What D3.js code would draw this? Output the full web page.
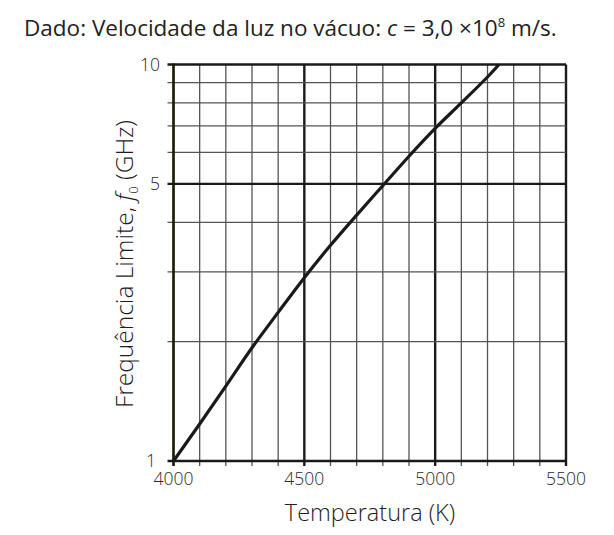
<!DOCTYPE html>
<html>
<head>
<meta charset="utf-8">
<script src="https://cdn.jsdelivr.net/npm/d3@7"></script>
<style>
  body { margin: 0; background: #fff; }
  svg text { font-family: "Open Sans", "Noto Sans", sans-serif; font-weight: 300; fill: #1e1e1e; }
</style>
</head>
<body>
<svg id="chart" width="614" height="535"></svg>
<script>
// temperatura (K) e frequência limite (GHz)
var temps = [4000, 4100, 4200, 4300, 4400, 4500, 4600, 4700, 4800, 4900, 5000, 5100, 5200, 5244];
var freqs = [1, 1.24, 1.545, 1.93, 2.37, 2.9, 3.5, 4.17, 4.95, 5.87, 6.9, 8.0, 9.3, 10];

var xTickLabels = [4000, 4500, 5000, 5500];
var yTickLabels = [1, 5, 10];
var xGridValues = d3.range(4000, 5501, 100);
var yGridValues = [1, 2, 3, 4, 5, 6, 7, 8, 9, 10];
var xMajor = [4500, 5000, 5500];
var yMajor = [1, 5, 10];

var svg = d3.select('#chart');

var x = d3.scaleLinear().domain([4000, 5500]).range([173.5, 566]);
var y = d3.scaleLog().domain([1, 10]).range([461, 64.5]);

var grid = svg.append('g');

grid.selectAll('line.v')
  .data(xGridValues)
  .enter().append('line')
  .attr('x1', function(d) { return x(d); })
  .attr('x2', function(d) { return x(d); })
  .attr('y1', y(10))
  .attr('y2', y(1) + 5)
  .attr('stroke', function(d) { return xMajor.indexOf(d) >= 0 ? '#1a1a1a' : '#555'; })
  .attr('stroke-width', function(d) { return xMajor.indexOf(d) >= 0 ? 2.4 : 1.3; });

grid.selectAll('line.h')
  .data(yGridValues)
  .enter().append('line')
  .attr('x1', x(4000) - 6)
  .attr('x2', x(5500))
  .attr('y1', function(d) { return y(d); })
  .attr('y2', function(d) { return y(d); })
  .attr('stroke', function(d) { return yMajor.indexOf(d) >= 0 ? '#1a1a1a' : '#555'; })
  .attr('stroke-width', function(d) { return yMajor.indexOf(d) >= 0 ? 2.4 : 1.3; });

// eixo vertical esquerdo
grid.append('line')
  .attr('x1', x(4000)).attr('x2', x(4000))
  .attr('y1', y(10) - 1).attr('y2', y(1) + 5)
  .attr('stroke', '#1a1a00')
  .attr('stroke-width', 2.6);

var line = d3.line()
  .x(function(d, i) { return x(temps[i]); })
  .y(function(d) { return y(d); })
  .curve(d3.curveCatmullRom);

svg.append('path')
  .datum(freqs)
  .attr('d', line)
  .attr('fill', 'none')
  .attr('stroke', '#1a1a1a')
  .attr('stroke-width', 3.2);

// rótulos dos eixos
svg.selectAll('text.xt')
  .data(xTickLabels)
  .enter().append('text')
  .attr('x', function(d) { return x(d); })
  .attr('y', 485)
  .attr('text-anchor', 'middle')
  .attr('font-size', 17.5)
  .style('fill', '#2a2a2a')
  .text(function(d) { return d; });

svg.selectAll('text.yt')
  .data(yTickLabels)
  .enter().append('text')
  .attr('x', function(d) { return d === 1 ? 156 : 160; })
  .attr('y', function(d) { return y(d) + 6; })
  .attr('text-anchor', 'end')
  .attr('font-size', 17.5)
  .style('fill', '#2a2a2a')
  .text(function(d) { return d; });

svg.append('text')
  .attr('x', 370)
  .attr('y', 521)
  .attr('text-anchor', 'middle')
  .attr('font-size', 23.5)
  .text('Temperatura (K)');

var ylab = svg.append('text')
  .attr('transform', 'translate(133,264) rotate(-90)')
  .attr('text-anchor', 'middle')
  .attr('font-size', 24.5);
ylab.append('tspan').text('Frequência Limite, ');
ylab.append('tspan').attr('font-style', 'italic').text('f');
ylab.append('tspan').attr('font-size', 13).attr('dy', 5).text('0');
ylab.append('tspan').attr('dy', -5).text(' (GHz)');

var title = svg.append('text')
  .attr('x', 24)
  .attr('y', 36)
  .attr('font-size', 22.5)
  .style('font-weight', 400)
  .style('fill', '#222');
title.append('tspan').text('Dado: Velocidade da luz no vácuo: ');
title.append('tspan').attr('font-style', 'italic').text('c');
title.append('tspan').text(' = 3,0 ×10');
title.append('tspan').attr('font-size', 13).attr('dy', -9).text('8');
title.append('tspan').attr('dy', 9).text(' m/s.');
</script>
</body>
</html>
